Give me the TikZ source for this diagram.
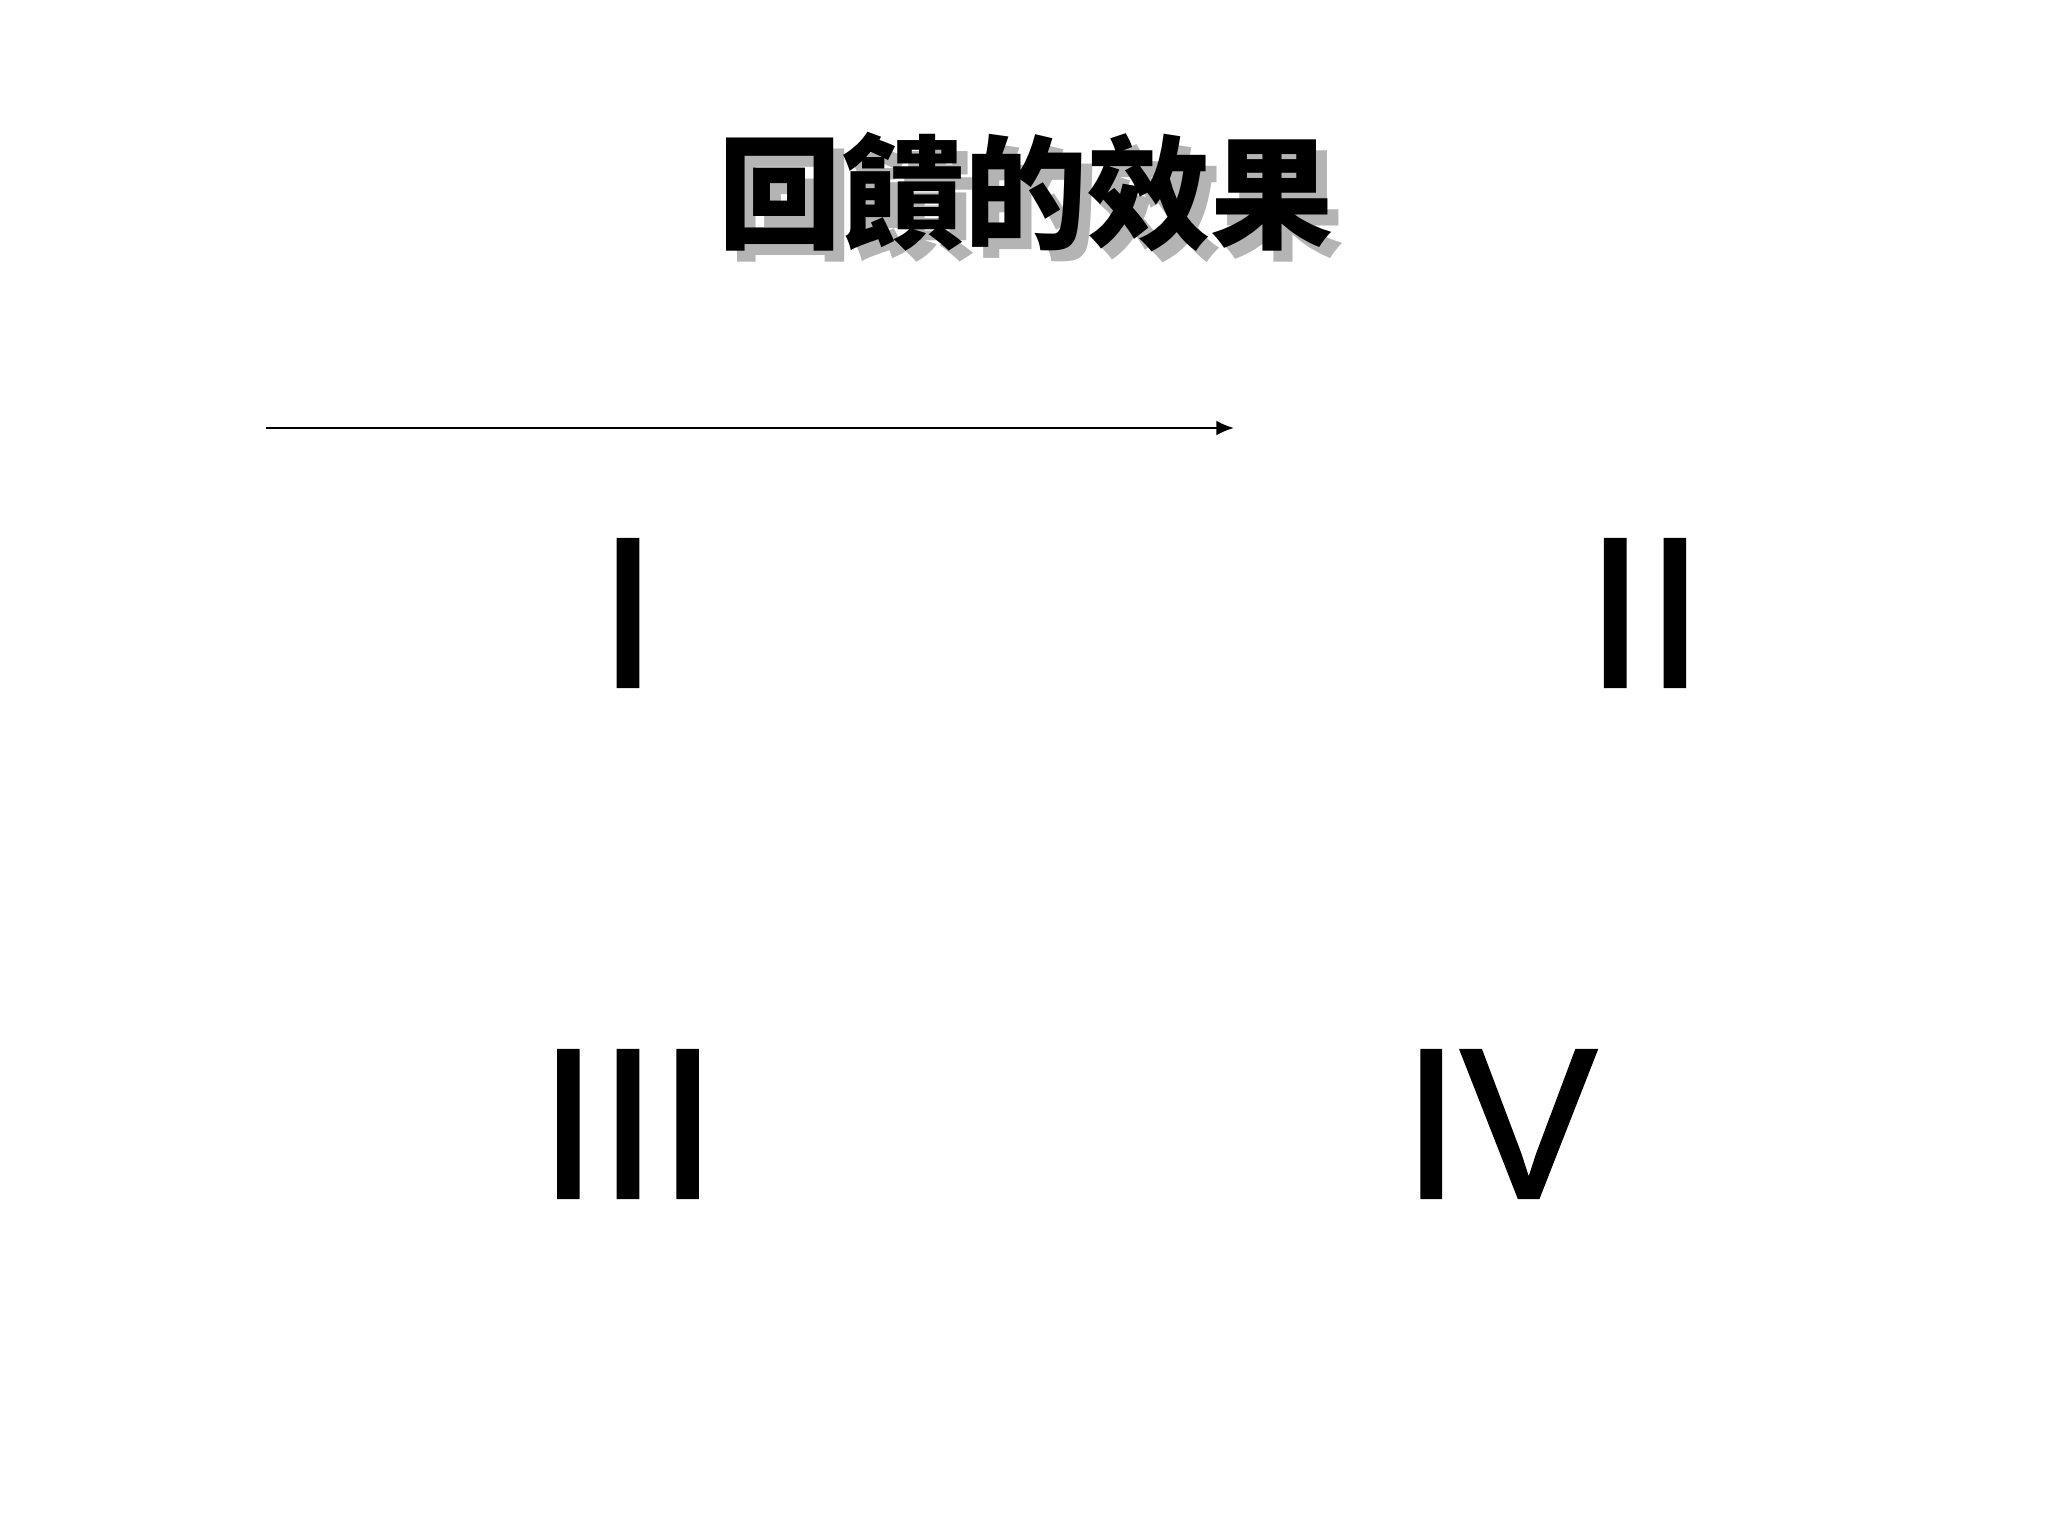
\documentclass[tikz,border=0pt]{standalone}
\usepackage{fontspec}
\usetikzlibrary{arrows.meta}
\newfontfamily\cjk{Noto Sans CJK TC}
\newfontfamily\romfont{Liberation Sans}[FakeBold=1.2]
\definecolor{shadowgray}{HTML}{B4B4B4}
\tikzstyle{heading} = [font=\cjk\bfseries\fontsize{35pt}{35pt}\selectfont, inner sep=0pt]
\tikzstyle{numeral} = [font=\romfont\fontsize{61pt}{61pt}\selectfont, inner sep=0pt]
\tikzstyle{line} = [draw, line width=0.6pt, -{Latex[length=5pt,width=4.2pt]}]

\begin{document}
\begin{tikzpicture}[x=0.01cm, y=-0.01cm]
    \useasboundingbox (0,0) rectangle (2048,1536);

    % Place nodes
    \node [heading, text=shadowgray] (titleshadow) at (1037,203) {回饋的效果};
    \node [heading] (title) at (1026,192) {回饋的效果};

    \coordinate (arrowstart) at (266,428);
    \coordinate (arrowend) at (1234,428);

    \node [numeral] (one) at (628,613) {I};
    \node [numeral] (two) at (1645,613) {II};
    \node [numeral] (three) at (628,1124) {III};
    \node [numeral, xscale=0.96] (four) at (1500,1124) {IV};

    % Draw edges
    \path [line] (arrowstart) -- (arrowend);
\end{tikzpicture}
\end{document}
